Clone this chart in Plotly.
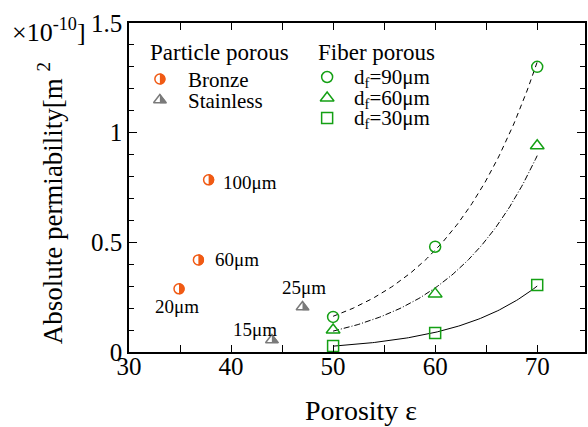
import numpy as np
import plotly.graph_objects as go

# ---- data ----
bronze_eps = [34.9, 36.8, 37.8]
bronze_k = [0.288, 0.42, 0.785]
bronze_lbl = ["20μm", "60μm", "100μm"]

stainless_eps = [44.0, 47.0]
stainless_k = [0.055, 0.205]
stainless_lbl = ["15μm", "25μm"]

fiber_eps = [50, 60, 70]
fiber_k90 = [0.16, 0.48, 1.30]
fiber_k60 = [0.10, 0.265, 0.94]
fiber_k30 = [0.027, 0.087, 0.305]

x_ticks = [30, 40, 50, 60, 70]
y_ticks = [0, 0.5, 1, 1.5]
y_tick_text = ["0", "0.5", "1", "1.5"]

# ---- styling ----
FONT = "Times New Roman, Liberation Serif, serif"
ORANGE = "#f05a14"
GRAY = "#7a7a7a"
GREEN = "#14a014"

W, H = 588, 427
ML, MR, MT, MB = 129, 1, 23, 75
PW, PH = W - ML - MR, H - MT - MB


def fx(px):
    return (px - ML) / PW


def fy(py):
    return (H - MB - py) / PH


fig = go.Figure()

# exponential trend lines through the fibre data
xs = np.linspace(50, 70, 120)
for k, dash in [(fiber_k90, "5px,4px"), (fiber_k60, "6px,2px,1px,2px"), (fiber_k30, "solid")]:
    b, a = np.polyfit(fiber_eps, np.log(k), 1)
    fig.add_trace(go.Scatter(x=xs, y=np.exp(a + b * xs), mode="lines",
                             line=dict(color="black", width=1, dash=dash),
                             hoverinfo="skip", showlegend=False))

# fibre markers
for k, sym, sz in [(fiber_k90, "circle-open", 11), (fiber_k60, "triangle-up-open", 12),
                   (fiber_k30, "square-open", 11)]:
    fig.add_trace(go.Scatter(x=fiber_eps, y=k, mode="markers",
                             marker=dict(symbol=sym, size=sz, color=GREEN, line=dict(width=1.5, color=GREEN)),
                             showlegend=False))

# particle markers: white body, filled right half added as shapes
fig.add_trace(go.Scatter(x=bronze_eps, y=bronze_k, mode="markers",
                         marker=dict(symbol="circle", size=10, color="white", line=dict(width=1.5, color=ORANGE)),
                         showlegend=False))
fig.add_trace(go.Scatter(x=stainless_eps, y=stainless_k, mode="markers",
                         marker=dict(symbol="triangle-up", size=11, color="white", line=dict(width=1.5, color=GRAY)),
                         showlegend=False))

shapes = []


def half_circle(x, y, r, color, xref="x", yref="y"):
    c = 0.5523 * r
    path = f"M0,{r} C{c},{r} {r},{c} {r},0 C{r},{-c} {c},{-r} 0,{-r} Z"
    shapes.append(dict(type="path", xref=xref, yref=yref, xsizemode="pixel", ysizemode="pixel",
                       xanchor=x, yanchor=y, path=path, fillcolor=color, line=dict(width=0)))


def half_triangle(x, y, size, color, xref="x", yref="y"):
    r = size / 2
    rt = r * 2 / np.sqrt(3)
    path = f"M0,{r} L{rt:.2f},{-r / 2} L0,{-r / 2} Z"
    shapes.append(dict(type="path", xref=xref, yref=yref, xsizemode="pixel", ysizemode="pixel",
                       xanchor=x, yanchor=y, path=path, fillcolor=color, line=dict(width=0)))


for x, y in zip(bronze_eps, bronze_k):
    half_circle(x, y, 5.6, ORANGE)
for x, y in zip(stainless_eps, stainless_k):
    half_triangle(x, y, 12.5, GRAY)

# ---- legend (drawn on an overlay axis spanning the plot area) ----
fig.add_trace(go.Scatter(x=[fx(160)], y=[fy(79)], xaxis="x2", yaxis="y2", mode="markers",
                         marker=dict(symbol="circle", size=10, color="white", line=dict(width=1.5, color=ORANGE)),
                         showlegend=False, hoverinfo="skip"))
fig.add_trace(go.Scatter(x=[fx(160)], y=[fy(100)], xaxis="x2", yaxis="y2", mode="markers",
                         marker=dict(symbol="triangle-up", size=11, color="white", line=dict(width=1.5, color=GRAY)),
                         showlegend=False, hoverinfo="skip"))
half_circle(fx(160), fy(79), 5.6, ORANGE, "x2", "y2")
half_triangle(fx(160), fy(100), 12.5, GRAY, "x2", "y2")

for py, sym, sz in [(77, "circle-open", 11), (98, "triangle-up-open", 12), (118, "square-open", 11)]:
    fig.add_trace(go.Scatter(x=[fx(328)], y=[fy(py)], xaxis="x2", yaxis="y2", mode="markers",
                             marker=dict(symbol=sym, size=sz, color=GREEN, line=dict(width=1.5, color=GREEN)),
                             showlegend=False, hoverinfo="skip"))

annotations = []


def note(text, px, py, size=21, xanchor="left"):
    annotations.append(dict(text=text, x=fx(px), y=fy(py), xref="x2", yref="y2", showarrow=False,
                            xanchor=xanchor, yanchor="middle", font=dict(family=FONT, size=size, color="black")))


note("Particle porous", 148, 52, 23)
note("Bronze", 186, 80)
note("Stainless", 186, 101)
note("Fiber porous", 317, 52, 23)
note("d<sub>f</sub>=90μm", 353, 78)
note("d<sub>f</sub>=60μm", 353, 99)
note("d<sub>f</sub>=30μm", 353, 119)

# size labels next to the particle points
lbl_font = dict(family=FONT, size=19, color="black")
for x, y, t, xa, xs_, ys_ in zip(bronze_eps, bronze_k, bronze_lbl,
                                 ["center", "left", "left"], [-2, 15, 12], [-18, 0, -3]):
    annotations.append(dict(text=t, x=x, y=y, showarrow=False, xanchor=xa, yanchor="middle",
                            xshift=xs_, yshift=ys_, font=lbl_font))
for x, y, t, xs_, ys_ in zip(stainless_eps, stainless_k, stainless_lbl, [-17, 2], [10, 20]):
    annotations.append(dict(text=t, x=x, y=y, showarrow=False, xanchor="center", yanchor="middle",
                            xshift=xs_, yshift=ys_, font=lbl_font))

# axis titles
annotations.append(dict(text="Absolute permiability[m <sup>2</sup>", xref="paper", yref="paper",
                        x=(50 - ML) / PW, y=fy(203), textangle=-90, showarrow=False,
                        xanchor="center", yanchor="middle", font=dict(family=FONT, size=27, color="black")))
annotations.append(dict(text="×10<sup>-10</sup>]", xref="paper", yref="paper",
                        x=(9 - ML) / PW, y=fy(30), showarrow=False,
                        xanchor="left", yanchor="middle", font=dict(family=FONT, size=26, color="black")))
annotations.append(dict(text="Porosity ε", xref="paper", yref="paper",
                        x=fx(362), y=fy(410), showarrow=False,
                        xanchor="center", yanchor="middle", font=dict(family=FONT, size=28, color="black")))

axis_common = dict(showgrid=False, zeroline=False, showline=True, linecolor="black", linewidth=1.5,
                   mirror="allticks", ticks="inside", tickcolor="black", tickwidth=1.2,
                   tickfont=dict(family=FONT, size=25, color="black"))

fig.update_layout(
    width=W, height=H, margin=dict(l=ML, r=MR, t=MT, b=MB),
    paper_bgcolor="white", plot_bgcolor="white", showlegend=False,
    font=dict(family=FONT, color="black"),
    xaxis=dict(range=[30, 30 + PW / 10.25], tickvals=x_ticks, ticklen=7, ticklabelstandoff=-9,
               minor=dict(dtick=5, tick0=30, ticks="inside", ticklen=7, tickcolor="black", tickwidth=1.2),
               **axis_common),
    yaxis=dict(range=[0, 1.5], tickvals=y_ticks, ticktext=y_tick_text, ticklen=8,
               minor=dict(dtick=0.1, tick0=0, ticks="inside", ticklen=5, tickcolor="black", tickwidth=1.2),
               **axis_common),
    xaxis2=dict(overlaying="x", range=[0, 1], visible=False),
    yaxis2=dict(overlaying="y", range=[0, 1], visible=False),
    shapes=shapes, annotations=annotations,
)

fig.write_html("out.html")
